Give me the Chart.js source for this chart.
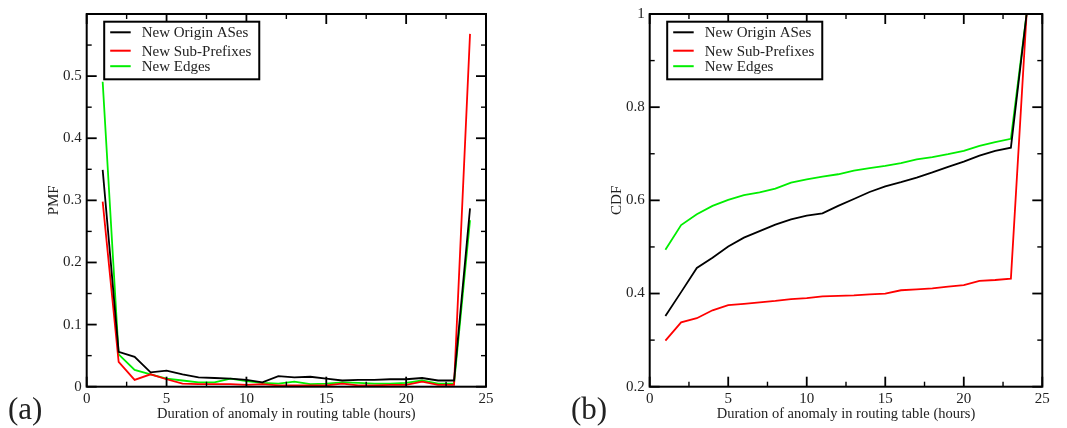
<!DOCTYPE html>
<html>
<head>
<meta charset="utf-8">
<script src="https://cdn.jsdelivr.net/npm/chart.js@4/dist/chart.umd.min.js"></script>
<style>
  html, body { margin: 0; padding: 0; background: #fff; }
  #page { position: relative; width: 1067px; height: 428px; overflow: hidden; }
  .panel { position: absolute; top: 0; height: 428px; }
  .tag { position: absolute; font-family: "Liberation Serif", "DejaVu Serif", serif; font-size: 31px; line-height: 31px; color: #222; }
</style>
</head>
<body>
<div id="page">
  <div class="panel" style="left:0;width:533px"><canvas id="pmf" width="533" height="428"></canvas></div>
  <div class="panel" style="left:533px;width:534px"><canvas id="cdf" width="534" height="428"></canvas></div>
  <div class="tag" style="left:8px;top:393px">(a)</div>
  <div class="tag" style="left:571px;top:393px">(b)</div>
</div>
<script>
// Duration buckets (hours)
const hours = [1,2,3,4,5,6,7,8,9,10,11,12,13,14,15,16,17,18,19,20,21,22,23,24];
const seriesNames = ["New Origin ASes", "New Sub-Prefixes", "New Edges"];

// Probability mass per duration bucket
const pmfOrigin = [0.349,0.056,0.048,0.023,0.026,0.020,0.015,0.014,0.013,0.011,0.007,0.017,
                   0.015,0.016,0.013,0.010,0.011,0.011,0.012,0.012,0.014,0.010,0.010,0.287];
const pmfSubPrefix = [0.298,0.040,0.011,0.020,0.012,0.005,0.004,0.004,0.004,0.003,0.004,0.002,
                      0.002,0.002,0.002,0.005,0.002,0.002,0.003,0.003,0.008,0.003,0.003,0.568];
const pmfEdges = [0.491,0.052,0.027,0.020,0.013,0.010,0.007,0.007,0.013,0.009,0.006,0.005,
                  0.008,0.004,0.005,0.007,0.006,0.005,0.005,0.006,0.010,0.005,0.005,0.268];

// Cumulative distribution per duration bucket
const cdfOrigin = [0.352,0.403,0.455,0.477,0.501,0.520,0.534,0.548,0.559,0.567,0.572,0.588,
                   0.603,0.618,0.630,0.639,0.649,0.660,0.672,0.683,0.696,0.706,0.713,1.000];
const cdfSubPrefix = [0.299,0.338,0.347,0.364,0.375,0.378,0.381,0.384,0.388,0.390,0.394,0.395,
                      0.396,0.398,0.400,0.407,0.409,0.411,0.415,0.418,0.427,0.429,0.432,1.000];
const cdfEdges = [0.494,0.547,0.570,0.588,0.601,0.611,0.617,0.625,0.638,0.645,0.651,0.656,
                  0.664,0.669,0.674,0.680,0.688,0.693,0.699,0.706,0.717,0.725,0.732,1.000];

const seriesColors = ["#000000", "#ff0000", "#00ee00"];
const SERIF = '"Liberation Serif", "DejaVu Serif", serif';

function points(values) {
  return hours.map((h, i) => ({ x: h, y: values[i] }));
}

// Frame, inward ticks on all four sides and a boxed legend
const framePlugin = {
  id: 'frameTicks',
  afterDatasetsDraw(chart, args, opts) {
    const { ctx, chartArea: a } = chart;
    const xs = chart.scales.x, ys = chart.scales.y;
    ctx.save();
    ctx.strokeStyle = '#000';
    ctx.lineCap = 'butt';
    const tick = (x1, y1, x2, y2, w) => {
      ctx.lineWidth = w;
      ctx.beginPath(); ctx.moveTo(x1, y1); ctx.lineTo(x2, y2); ctx.stroke();
    };
    for (let v = xs.min; v <= xs.max + 1e-9; v += opts.xMinor) {
      const major = Math.abs(v / opts.xMajor - Math.round(v / opts.xMajor)) < 1e-6;
      const len = major ? 10 : 5, w = major ? 1.8 : 1.4;
      const px = xs.getPixelForValue(v);
      tick(px, a.bottom, px, a.bottom - len, w);
      tick(px, a.top, px, a.top + len, w);
    }
    for (let v = ys.min; v <= ys.max + 1e-9; v += opts.yMinor) {
      const major = Math.abs(v / opts.yMajor - Math.round(v / opts.yMajor)) < 1e-6;
      const len = major ? 10 : 5, w = major ? 1.8 : 1.4;
      const py = ys.getPixelForValue(v);
      tick(a.left, py, a.left + len, py, w);
      tick(a.right, py, a.right - len, py, w);
    }
    ctx.lineWidth = 2;
    ctx.strokeRect(a.left, a.top, a.right - a.left, a.bottom - a.top);

    // legend box
    ctx.font = '15px ' + SERIF;
    const labels = chart.data.datasets.map(d => d.label);
    const maxW = Math.max(...labels.map(t => ctx.measureText(t).width));
    const bx = a.left + 17.5, by = 21.7;
    const textX = a.left + 55;
    const bw = (textX - bx) + maxW + 8, bh = 57.6;
    ctx.fillStyle = '#fff';
    ctx.fillRect(bx, by, bw, bh);
    ctx.lineWidth = 2;
    ctx.strokeRect(bx, by, bw, bh);
    const rows = [32.3, 50.7, 66.2];
    chart.data.datasets.forEach((d, i) => {
      ctx.strokeStyle = d.borderColor;
      ctx.lineWidth = 2;
      ctx.beginPath();
      ctx.moveTo(a.left + 23.5, rows[i]);
      ctx.lineTo(a.left + 44, rows[i]);
      ctx.stroke();
      ctx.fillStyle = '#222';
      ctx.textBaseline = 'middle';
      ctx.textAlign = 'left';
      ctx.fillText(d.label, textX, rows[i] + 1);
    });
    ctx.restore();
  }
};

function makeChart(id, cfg) {
  const datasets = cfg.series.map((vals, i) => ({
    label: seriesNames[i],
    data: points(vals),
    borderColor: seriesColors[i],
    backgroundColor: seriesColors[i],
    borderWidth: 1.8,
    pointRadius: 0,
    tension: 0,
    fill: false
  }));
  return new Chart(document.getElementById(id), {
    type: 'line',
    data: { datasets },
    plugins: [framePlugin],
    options: {
      responsive: false,
      animation: false,
      events: [],
      layout: { padding: { left: 0, top: 10, right: cfg.rightPad, bottom: 0 } },
      plugins: {
        legend: { display: false },
        tooltip: { enabled: false },
        frameTicks: { xMajor: 5, xMinor: 2.5, yMajor: cfg.yMajor, yMinor: cfg.yMinor }
      },
      scales: {
        x: {
          type: 'linear', min: 0, max: 25,
          grid: { display: false, drawTicks: false },
          border: { display: false },
          ticks: { stepSize: 5, padding: 3, color: '#222', font: { family: SERIF, size: 15 } },
          title: {
            display: true, text: 'Duration of anomaly in routing table (hours)',
            color: '#222', font: { family: SERIF, size: 14.5 }, padding: { top: 0, bottom: 5.5 }
          },
          afterFit(s) { s.height = 41.3; }
        },
        y: {
          type: 'linear', min: cfg.yMin, max: cfg.yMax,
          grid: { display: false, drawTicks: false },
          border: { display: false },
          ticks: {
            stepSize: cfg.yMajor, padding: 5, color: '#222', font: { family: SERIF, size: 15 },
            callback: cfg.yLabel
          },
          title: {
            display: true, text: cfg.yTitle, color: '#222',
            font: { family: SERIF, size: 15 }, padding: { top: cfg.titlePad, bottom: 0 }
          },
          afterFit(s) { s.width = cfg.yWidth; }
        }
      }
    }
  });
}

makeChart('pmf', {
  series: [pmfOrigin, pmfSubPrefix, pmfEdges],
  yMin: 0, yMax: 0.6, yMajor: 0.1, yMinor: 0.05,
  yTitle: 'PMF', yWidth: 86.7, rightPad: 47, titlePad: 45,
  yLabel: (v) => (Math.abs(v - 0.6) < 1e-9 ? '' : String(Math.round(v * 10) / 10))
});

makeChart('cdf', {
  series: [cdfOrigin, cdfSubPrefix, cdfEdges],
  yMin: 0.2, yMax: 1, yMajor: 0.2, yMinor: 0.1,
  yTitle: 'CDF', yWidth: 116.7, rightPad: 24.7, titlePad: 75.5,
  yLabel: (v) => String(Math.round(v * 10) / 10)
});
</script>
</body>
</html>
